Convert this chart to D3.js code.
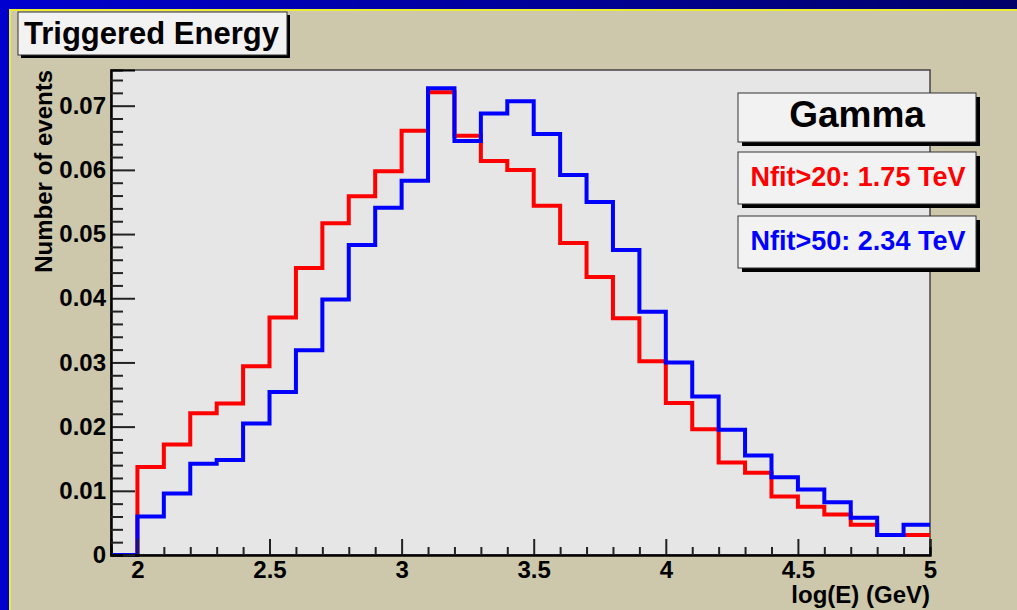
<!DOCTYPE html>
<html>
<head>
<meta charset="utf-8">
<script src="https://cdn.jsdelivr.net/npm/d3@7"></script>
<style>
  body { margin: 0; background: #0000cc; }
  svg { display: block; font-family: "Liberation Sans", Arial, sans-serif; font-weight: bold; }
</style>
</head>
<body>
<svg id="chart" width="1017" height="610"></svg>
<script>
// bin low edges, width 0.1
const binLow = [1.9, 2.0, 2.1, 2.2, 2.3, 2.4, 2.5, 2.6, 2.7, 2.8, 2.9, 3.0, 3.1, 3.2, 3.3, 3.4,
                3.5, 3.6, 3.7, 3.8, 3.9, 4.0, 4.1, 4.2, 4.3, 4.4, 4.5, 4.6, 4.7, 4.8, 4.9];
const binWidth = 0.1;

// Nfit>20
const redVals = [0, 0.0137, 0.0172, 0.0221, 0.0236, 0.0294, 0.0370, 0.0447, 0.0517, 0.0559, 0.0598,
                 0.0661, 0.0721, 0.0653, 0.0614, 0.0600, 0.0544, 0.0486, 0.0433, 0.0369, 0.0302,
                 0.0237, 0.0196, 0.0144, 0.0128, 0.0091, 0.0075, 0.0063, 0.0047, 0.0031, 0.0031];
// Nfit>50
const blueVals = [0, 0.0060, 0.0096, 0.0142, 0.0148, 0.0205, 0.0254, 0.0319, 0.0398, 0.0483, 0.0541,
                  0.0583, 0.0727, 0.0645, 0.0688, 0.0707, 0.0656, 0.0592, 0.0550, 0.0475, 0.0379,
                  0.0300, 0.0247, 0.0195, 0.0155, 0.0121, 0.0102, 0.0082, 0.0058, 0.0031, 0.0047];

const xTicks = [2, 2.5, 3, 3.5, 4, 4.5, 5];
const xMinor = [2.1, 2.2, 2.3, 2.4, 2.6, 2.7, 2.8, 2.9, 3.1, 3.2, 3.3, 3.4, 3.6, 3.7, 3.8, 3.9,
                4.1, 4.2, 4.3, 4.4, 4.6, 4.7, 4.8, 4.9];
const yTicks = [0, 0.01, 0.02, 0.03, 0.04, 0.05, 0.06, 0.07];
const yMinor = [0.002, 0.004, 0.006, 0.008, 0.012, 0.014, 0.016, 0.018, 0.022, 0.024, 0.026, 0.028,
                0.032, 0.034, 0.036, 0.038, 0.042, 0.044, 0.046, 0.048, 0.052, 0.054, 0.056, 0.058,
                0.062, 0.064, 0.066, 0.068, 0.072, 0.074];

const legendLines = [
  {text: "Nfit>20: 1.75 TeV", color: "#ff0000"},
  {text: "Nfit>50: 2.34 TeV", color: "#0000ff"}
];

const svg = d3.select("#chart");

// window frame
const grad = svg.append("defs").append("linearGradient").attr("id", "topband");
grad.append("stop").attr("offset", "0%").attr("stop-color", "#0000d0");
grad.append("stop").attr("offset", "100%").attr("stop-color", "#000068");
svg.append("rect").attr("width", 1017).attr("height", 610).attr("fill", "#0000cc");
svg.append("rect").attr("width", 1017).attr("height", 10).attr("fill", "url(#topband)");
svg.append("rect").attr("x", 9).attr("y", 9).attr("width", 1008).attr("height", 601).attr("fill", "#ecec30");
svg.append("rect").attr("x", 11).attr("y", 11).attr("width", 1006).attr("height", 599).attr("fill", "#cdc7ab");

const plot = {left: 111, right: 930, top: 70, bottom: 555};

const x = d3.scaleLinear().domain([1.9, 5.0]).range([plot.left, plot.right]);
const y = d3.scaleLinear().domain([0, 0.07556]).range([plot.bottom, plot.top]);

svg.append("rect")
  .attr("x", plot.left).attr("y", plot.top)
  .attr("width", plot.right - plot.left).attr("height", plot.bottom - plot.top)
  .attr("fill", "#e6e6e6").attr("stroke", "#444").attr("stroke-width", 1.5);

// histograms
const step = d3.line().curve(d3.curveStepAfter).x(d => x(d[0])).y(d => y(d[1]));
function histPoints(vals) {
  const pts = binLow.map((b, i) => [b, vals[i]]);
  pts.push([binLow[binLow.length - 1] + binWidth, vals[vals.length - 1]]);
  return pts;
}
svg.append("path").attr("d", step(histPoints(redVals)))
  .attr("fill", "none").attr("stroke", "#ff0000").attr("stroke-width", 4);
svg.append("path").attr("d", step(histPoints(blueVals)))
  .attr("fill", "none").attr("stroke", "#0000ff").attr("stroke-width", 4);

// x axis
const gx = svg.append("g").attr("transform", `translate(0,${plot.bottom})`);
gx.call(d3.axisBottom(x).tickValues(xTicks).tickSize(-16).tickPadding(6).tickFormat(d3.format("")));
gx.append("g").call(d3.axisBottom(x).tickValues(xMinor).tickSize(-8).tickFormat(""));
gx.selectAll(".domain").attr("stroke", "#000").attr("stroke-width", 2);
gx.selectAll("line").attr("stroke", "#222").attr("stroke-width", 2);
gx.selectAll("text").attr("font-size", 24).attr("fill", "#000")
  .attr("font-family", "Liberation Sans, Arial, sans-serif").attr("font-weight", "bold");

// y axis
const gy = svg.append("g").attr("transform", `translate(${plot.left},0)`);
gy.call(d3.axisLeft(y).tickValues(yTicks).tickSize(-24).tickPadding(5).tickFormat(d => d === 0 ? "0" : d3.format(".2f")(d)));
gy.append("g").call(d3.axisLeft(y).tickValues(yMinor).tickSize(-12).tickFormat(""));
gy.selectAll(".domain").attr("stroke", "#000").attr("stroke-width", 2);
gy.selectAll("line").attr("stroke", "#222").attr("stroke-width", 2);
gy.selectAll("text").attr("font-size", 24).attr("fill", "#000")
  .attr("font-family", "Liberation Sans, Arial, sans-serif").attr("font-weight", "bold");

// axis titles
svg.append("text").attr("x", plot.right).attr("y", 603)
  .attr("text-anchor", "end").attr("font-size", 24).text("log(E) (GeV)");
svg.append("text").attr("transform", `translate(52,${plot.top}) rotate(-90)`)
  .attr("text-anchor", "end").attr("font-size", 24).text("Number of events");

// boxes with shadow
function box(x0, y0, w, h, sh) {
  svg.append("rect").attr("x", x0 + sh).attr("y", y0 + sh).attr("width", w).attr("height", h).attr("fill", "#000");
  svg.append("rect").attr("x", x0).attr("y", y0).attr("width", w).attr("height", h)
    .attr("fill", "#f2f2f2").attr("stroke", "#333").attr("stroke-width", 1);
}

box(18, 12, 269, 43, 3);
svg.append("text").attr("x", 24).attr("y", 44).attr("font-size", 31).text("Triggered Energy");

box(738, 93, 238, 49, 4);
svg.append("text").attr("x", 857).attr("y", 127).attr("text-anchor", "middle")
  .attr("font-size", 37).text("Gamma");

legendLines.forEach((d, i) => {
  const y0 = [152, 216][i];
  box(738, y0, 238, 52, 4);
  svg.append("text").attr("x", 858).attr("y", y0 + 34).attr("text-anchor", "middle")
    .attr("font-size", 27).attr("fill", d.color).text(d.text);
});
</script>
</body>
</html>
